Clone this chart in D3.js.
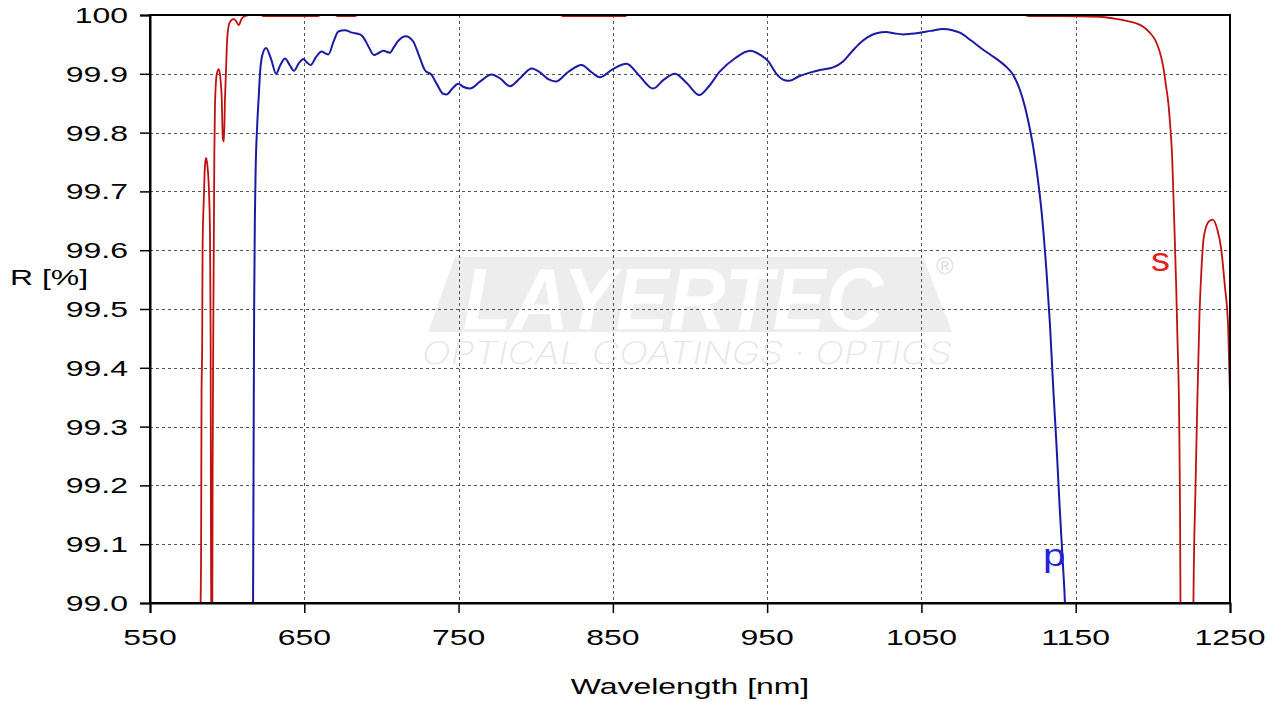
<!DOCTYPE html>
<html><head><meta charset="utf-8">
<script src="https://cdn.jsdelivr.net/npm/d3@7/dist/d3.min.js"></script>
<style>html,body{margin:0;padding:0;background:#fff;}svg{display:block;}</style>
</head><body>
<svg id="chart" width="1276" height="701"></svg>
<script>
// ---- data ----
const xTicks = [550, 650, 750, 850, 950, 1050, 1150, 1250];
const yTicks = [99.0, 99.1, 99.2, 99.3, 99.4, 99.5, 99.6, 99.7, 99.8, 99.9, 100];
const yTickLabels = ["99.0","99.1","99.2","99.3","99.4","99.5","99.6","99.7","99.8","99.9","100"];

const pWavelength = [616.6,616.8,617.2,617.5,618.0,618.5,619.5,620.6,621.3,622.8,625.2,628.5,631.7,634.5,637.5,640.5,643.3,646.5,649.4,651.8,654.1,657.5,661.2,663.5,665.6,669,672.1,676.3,681,686,688,691.5,695.2,698,701.2,705.5,708,710.9,715.8,720.6,724.5,728.2,732.5,736,740,742.2,746,749.8,753,757.4,764,771.4,777,783.3,790,797.4,803,808.1,813,821,829.7,836,841.6,850,858.9,867,876.1,883,890.2,898,906,912,919.4,929,938.9,945,950.8,956,961.5,964.4,970,977.7,985,992.8,999.2,1004,1010.1,1015,1020.9,1027.3,1032,1038.1,1043,1049,1056,1064.1,1070,1074.9,1082,1090,1095,1100.9,1105,1109.5,1113.9,1117,1120,1122.5,1125,1127.9,1131.1,1133.3,1135.4,1137.6,1139.7,1141.9,1143,1143.5];
const pReflect = [98.95,99.0,99.3,99.5,99.66,99.74,99.813,99.867,99.901,99.932,99.944,99.925,99.900,99.915,99.926,99.915,99.905,99.918,99.925,99.919,99.915,99.928,99.938,99.935,99.933,99.955,99.972,99.974,99.970,99.967,99.963,99.947,99.932,99.935,99.939,99.936,99.945,99.956,99.964,99.955,99.930,99.906,99.898,99.882,99.866,99.865,99.875,99.883,99.878,99.875,99.887,99.899,99.892,99.879,99.893,99.909,99.902,99.891,99.887,99.903,99.915,99.903,99.894,99.908,99.917,99.897,99.875,99.890,99.900,99.884,99.864,99.878,99.904,99.926,99.939,99.933,99.921,99.900,99.889,99.888,99.895,99.902,99.907,99.911,99.921,99.935,99.952,99.962,99.969,99.971,99.969,99.967,99.968,99.970,99.973,99.976,99.974,99.970,99.957,99.941,99.932,99.921,99.912,99.898,99.872,99.845,99.810,99.775,99.730,99.665,99.562,99.474,99.367,99.266,99.158,99.057,99.0,98.95];

const sWavelength = [580,582.6,582.8,583.1,583.4,583.8,584.1,585,585.6,586.3,587.1,588.2,588.9,589.3,589.5,589.8,590.3,590.6,591.3,591.7,592.1,593.2,594.5,595.4,596.5,597.2,597.9,598.6,599.2,600.1,601.6,604,605.5,607.5,609.5,612.5,614,622,623.5,659,660.5,670,671.5,683,684.5,816,817.5,858,859.5,1117,1120,1140,1165.7,1175,1183,1189,1193.8,1198,1201.4,1204.5,1206.8,1208.5,1210,1211.3,1212.3,1213.7,1215.1,1215.9,1217,1217.6,1217.9,1218.2,1226,1226.3,1227.6,1228.7,1230.2,1231.5,1233,1236.3,1238.8,1241.7,1244.3,1246.6,1248.8,1250];
const sReflect = [98.5,98.95,99.0,99.077,99.354,99.434,99.608,99.696,99.743,99.757,99.746,99.702,99.626,99.454,99.124,98.9,98.9,99.232,99.588,99.763,99.844,99.898,99.908,99.898,99.857,99.79,99.785,99.857,99.901,99.962,99.987,99.993,99.991,99.983,99.994,99.999,100,100,99.998,99.998,100,100,99.998,99.998,100,100,99.998,99.998,100,100,99.998,99.998,99.997,99.994,99.99,99.986,99.98,99.97,99.958,99.937,99.911,99.88,99.851,99.81,99.770,99.662,99.541,99.454,99.326,99.165,99.0,98.8,98.8,99.0,99.192,99.327,99.488,99.568,99.622,99.649,99.652,99.636,99.602,99.541,99.468,99.354];

// ---- layout ----
const svg = d3.select("#chart");
const L = 150, T = 15, W = 1080, H = 588;
const x = d3.scaleLinear().domain([550, 1250]).range([L, L + W]);
const y = d3.scaleLinear().domain([99.0, 100]).range([T + H, T]);
const FONT = "Arial, 'Liberation Sans', sans-serif";
const SX = 1.42;

// watermark
const wm = svg.append("g");
wm.append("polygon")
  .attr("points", [[428,332],[455,257],[923,257],[952,332]].map(p => p.join(",")).join(" "))
  .attr("fill", "#ededed");
wm.append("text").attr("x", 463).attr("y", 329)
  .attr("font-family", FONT).attr("font-weight", "bold").attr("font-style", "italic")
  .attr("font-size", 88).attr("fill", "#ffffff")
  .attr("textLength", 420).attr("lengthAdjust", "spacingAndGlyphs")
  .text("LAYERTEC");
wm.append("text").attr("x", 936).attr("y", 274)
  .attr("font-family", FONT).attr("font-size", 24).attr("fill", "#e0e0e0")
  .text("®");
wm.append("text").attr("x", 422).attr("y", 364)
  .attr("font-family", "Inter, 'Open Sans', sans-serif").attr("font-weight", 200).attr("font-style", "italic")
  .attr("font-size", 31).attr("fill", "#e6e6e6")
  .attr("textLength", 530).attr("lengthAdjust", "spacingAndGlyphs")
  .text("OPTICAL COATINGS · OPTICS");

// gridlines
const grid = svg.append("g").attr("stroke", "#555").attr("stroke-width", 1).attr("stroke-dasharray", "3,3");
grid.selectAll("line.gx").data(xTicks.slice(1, -1)).join("line")
  .attr("x1", d => Math.round(x(d)) + 0.5).attr("x2", d => Math.round(x(d)) + 0.5)
  .attr("y1", T).attr("y2", T + H);
grid.selectAll("line.gy").data(yTicks.slice(1, -1)).join("line")
  .attr("y1", d => Math.round(y(d)) + 0.5).attr("y2", d => Math.round(y(d)) + 0.5)
  .attr("x1", L).attr("x2", L + W);

// curves
svg.append("clipPath").attr("id", "clip").append("rect")
  .attr("x", L).attr("y", T).attr("width", W).attr("height", H);
const line = d3.line().x(d => x(d[0])).y(d => y(d[1])).curve(d3.curveMonotoneX);
const plot = svg.append("g").attr("clip-path", "url(#clip)");
plot.append("path").datum(sWavelength.map((w, i) => [w, sReflect[i]]))
  .attr("d", line).attr("fill", "none").attr("stroke", "#c01010").attr("stroke-width", 1.8);
plot.append("path").datum(pWavelength.map((w, i) => [w, pReflect[i]]))
  .attr("d", line).attr("fill", "none").attr("stroke", "#1a1aa6").attr("stroke-width", 2);

// series labels
svg.append("g").attr("transform", `translate(1043,566) scale(1.3,1)`)
  .append("text").attr("font-family", FONT).attr("font-size", 31).attr("fill", "#2222dd").text("p");
svg.append("g").attr("transform", `translate(1151,271) scale(1.15,1)`)
  .append("text").attr("font-family", FONT).attr("font-size", 33).attr("fill", "#e42020").text("s");

// frame
svg.append("rect").attr("x", L).attr("y", T).attr("width", W).attr("height", H)
  .attr("fill", "none").attr("stroke", "#000").attr("stroke-width", 2);

// axes with d3
const yAxis = d3.axisLeft(y).tickValues(yTicks).tickSize(10).tickFormat(() => "");
const gy = svg.append("g").attr("transform", `translate(${L},0)`).call(yAxis);
gy.select(".domain").attr("stroke-width", 2);
gy.selectAll(".tick line").attr("stroke-width", 1.5);
const xAxis = d3.axisBottom(x).tickValues(xTicks).tickSize(10).tickFormat(() => "");
const gx = svg.append("g").attr("transform", `translate(0,${T + H})`).call(xAxis);
gx.select(".domain").attr("stroke-width", 2);
gx.selectAll(".tick line").attr("stroke-width", 1.5);

// tick labels (horizontally stretched like the original)
svg.append("g").selectAll("g").data(yTicks).join("g")
  .attr("transform", d => `translate(128,${y(d) + 8}) scale(${SX},1)`)
  .append("text").attr("text-anchor", "end").attr("font-family", FONT).attr("font-size", 22.5).attr("fill", "#000")
  .text((d, i) => yTickLabels[i]);
svg.append("g").selectAll("g").data(xTicks).join("g")
  .attr("transform", d => `translate(${x(d)},645) scale(${SX},1)`)
  .append("text").attr("text-anchor", "middle").attr("font-family", FONT).attr("font-size", 22.5).attr("fill", "#000")
  .text(d => d);

// axis titles
svg.append("g").attr("transform", `translate(10,285) scale(${SX},1)`)
  .append("text").attr("font-family", FONT).attr("font-size", 22.5).attr("fill", "#000").text("R [%]");
svg.append("g").attr("transform", `translate(690,694) scale(${SX},1)`)
  .append("text").attr("text-anchor", "middle").attr("font-family", FONT).attr("font-size", 22.5).attr("fill", "#000").text("Wavelength [nm]");
</script>
</body></html>
